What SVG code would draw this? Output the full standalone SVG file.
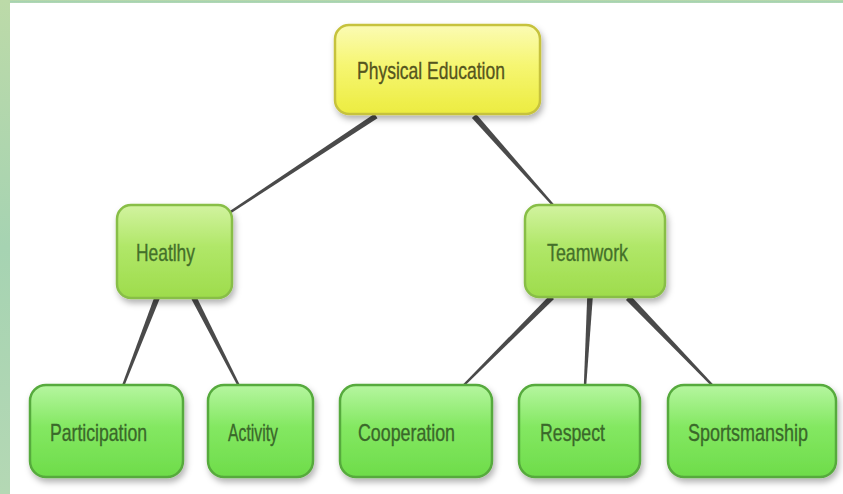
<svg xmlns="http://www.w3.org/2000/svg" width="843" height="494" viewBox="0 0 843 494">
  <defs>
    <linearGradient id="band" x1="0" y1="0" x2="0" y2="1">
      <stop offset="0" stop-color="#bcdaa8"/>
      <stop offset="0.5" stop-color="#a6d3b2"/>
      <stop offset="1" stop-color="#b4d8b4"/>
    </linearGradient>
    <linearGradient id="gYellow" x1="0" y1="0" x2="0" y2="1">
      <stop offset="0" stop-color="#fbfbb4"/>
      <stop offset="0.45" stop-color="#f6f672"/>
      <stop offset="1" stop-color="#ecec40"/>
    </linearGradient>
    <linearGradient id="gLime" x1="0" y1="0" x2="0" y2="1">
      <stop offset="0" stop-color="#d2f3a0"/>
      <stop offset="0.45" stop-color="#b0e768"/>
      <stop offset="1" stop-color="#9edc4c"/>
    </linearGradient>
    <linearGradient id="gGreen" x1="0" y1="0" x2="0" y2="1">
      <stop offset="0" stop-color="#b6f6a0"/>
      <stop offset="0.45" stop-color="#84e862"/>
      <stop offset="1" stop-color="#6edc4a"/>
    </linearGradient>
    <filter id="shadow" x="-10%" y="-10%" width="125%" height="130%">
      <feDropShadow dx="2" dy="4" stdDeviation="3" flood-color="#000" flood-opacity="0.3"/>
    </filter>
  </defs>
  <style>
    .box { stroke-width: 2.5; filter: url(#shadow); }
    .yellow { fill: url(#gYellow); stroke: #c6c23c; }
    .lime { fill: url(#gLime); stroke: #88be46; }
    .green { fill: url(#gGreen); stroke: #56aa3c; }
    .label { font-family: "Liberation Sans Narrow", "Arial Narrow", "Liberation Sans", Arial, sans-serif; font-size: 24px; stroke-width: 0.35; }
    .t-yellow { fill: #55551e; stroke: #55551e; }
    .t-lime { fill: #44702a; stroke: #44702a; }
    .t-green { fill: #3a682a; stroke: #3a682a; }
    .link { fill: #4a4a4a; }
  </style>

  <!-- page background with textured green band -->
  <rect x="0" y="0" width="843" height="494" fill="#ffffff"/>
  <rect x="0" y="0" width="843" height="3" fill="url(#band)"/>
  <rect x="0" y="0" width="10" height="494" fill="url(#band)"/>

  <!-- tapered connectors, drawn under the nodes -->
  <g id="connectors">
    <polygon class="link" points="374.5,113.7 228.3,212 229.7,214 377.5,118.3"/>
    <polygon class="link" points="471.9,117.9 552.1,205.8 553.9,204.2 476.1,114.1"/>
    <polygon class="link" points="154.4,297 121.9,385.6 124.1,386.4 159.6,299"/>
    <polygon class="link" points="191.5,299.3 237.9,386.5 240.1,385.5 196.5,296.7"/>
    <polygon class="link" points="550,295 462.2,385.2 463.8,386.8 554,299"/>
    <polygon class="link" points="587.2,296.8 583.8,385.9 586.2,386.1 592.8,297.2"/>
    <polygon class="link" points="626,299.9 712.1,386.8 713.9,385.2 630,295.1"/>
  </g>

  <g id="physical-education">
    <rect class="box yellow" x="335" y="25" width="205" height="89" rx="14"/>
    <text class="label t-yellow" x="357" y="79" textLength="148" lengthAdjust="spacingAndGlyphs">Physical Education</text>
  </g>

  <g id="heatlhy">
    <rect class="box lime" x="117" y="205" width="115" height="93" rx="14"/>
    <text class="label t-lime" x="136" y="261" textLength="59" lengthAdjust="spacingAndGlyphs">Heatlhy</text>
  </g>

  <g id="teamwork">
    <rect class="box lime" x="525" y="205" width="140" height="92" rx="14"/>
    <text class="label t-lime" x="547" y="261" textLength="81" lengthAdjust="spacingAndGlyphs">Teamwork</text>
  </g>

  <g id="participation">
    <rect class="box green" x="30" y="385" width="153" height="92" rx="16"/>
    <text class="label t-green" x="50" y="441" textLength="97" lengthAdjust="spacingAndGlyphs">Participation</text>
  </g>

  <g id="activity">
    <rect class="box green" x="208" y="385" width="105" height="92" rx="16"/>
    <text class="label t-green" x="228" y="441" textLength="50" lengthAdjust="spacingAndGlyphs">Activity</text>
  </g>

  <g id="cooperation">
    <rect class="box green" x="340" y="385" width="152" height="92" rx="16"/>
    <text class="label t-green" x="358" y="441" textLength="97" lengthAdjust="spacingAndGlyphs">Cooperation</text>
  </g>

  <g id="respect">
    <rect class="box green" x="519" y="385" width="121" height="92" rx="16"/>
    <text class="label t-green" x="540" y="441" textLength="65" lengthAdjust="spacingAndGlyphs">Respect</text>
  </g>

  <g id="sportsmanship">
    <rect class="box green" x="668" y="385" width="168" height="92" rx="16"/>
    <!-- condensed horizontally so the long word stays inside the box -->
    <text class="label t-green" transform="translate(688 441) scale(0.75 1)" x="0" y="0" textLength="160" lengthAdjust="spacingAndGlyphs">Sportsmanship</text>
  </g>
</svg>
